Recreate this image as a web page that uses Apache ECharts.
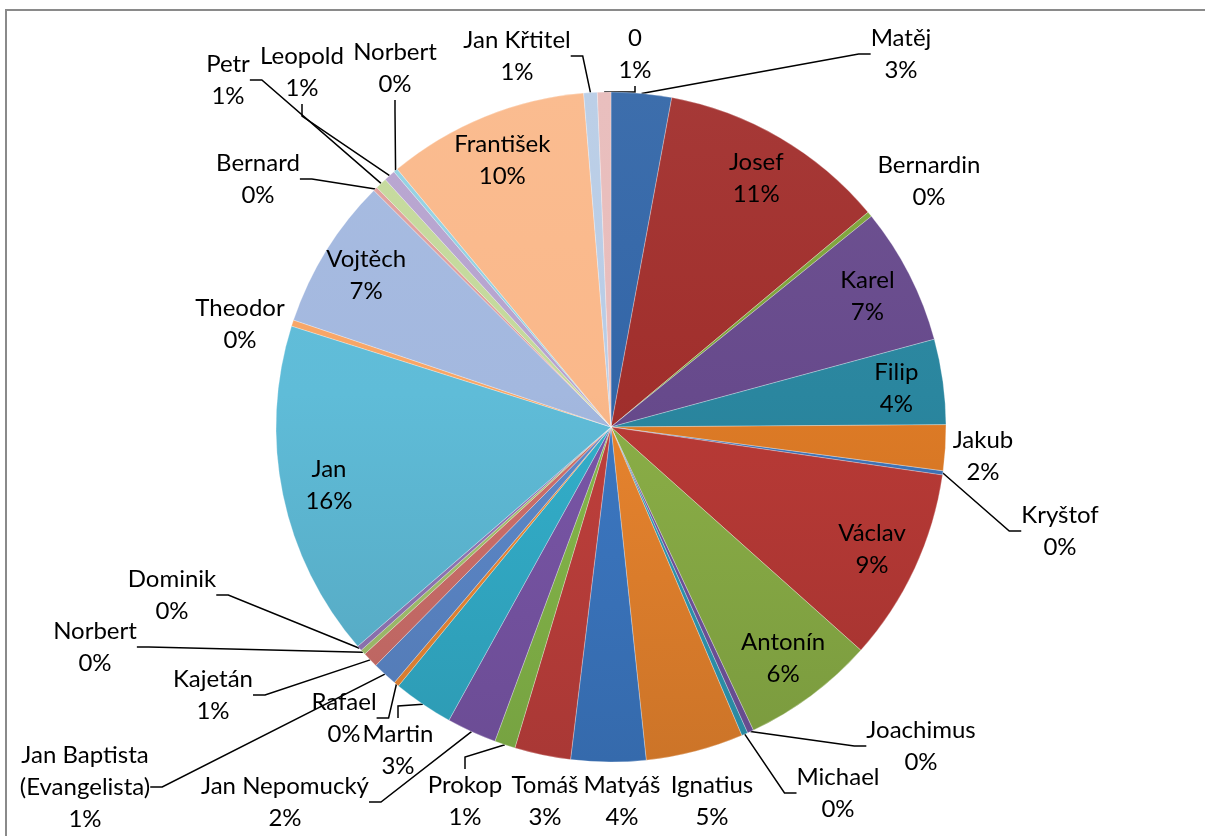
<!DOCTYPE html>
<html>
<head>
<meta charset="utf-8">
<title>Jména</title>
<script src="https://cdn.jsdelivr.net/npm/echarts@6/dist/echarts.min.js"></script>
<style>
  html, body { margin: 0; padding: 0; background: #fff; }
  #chart { width: 1205px; height: 836px; }
</style>
</head>
<body>
<div id="chart"></div>
<script>
// podíly jmen (v %), pořadí po směru hodinových ručiček od 12 hodin
const names = [
  'Matěj', 'Josef', 'Bernardin', 'Karel', 'Filip', 'Jakub', 'Kryštof', 'Václav',
  'Antonín', 'Joachimus', 'Michael', 'Ignatius', 'Matyáš', 'Tomáš', 'Prokop',
  'Jan Nepomucký', 'Martin', 'Rafael', 'Jan Baptista (Evangelista)', 'Kajetán',
  'Norbert', 'Dominik', 'Jan', 'Theodor', 'Vojtěch', 'Bernard', 'Petr', 'Leopold',
  'Norbert', 'František', 'Jan Křtitel', '0'
];
const shares = [
  2.9, 11.0, 0.25, 6.6, 4.1, 2.2, 0.2, 9.3,
  6.4, 0.3, 0.3, 4.7, 3.6, 2.7, 1.0,
  2.4, 2.9, 0.25, 1.2, 0.75,
  0.25, 0.25, 16.2, 0.3, 7.3, 0.2, 0.55, 0.55,
  0.2, 9.7, 0.65, 0.65
];
// popisky uvnitř výseče
const insideNames = ['Josef', 'Karel', 'Filip', 'Václav', 'Antonín', 'Jan', 'Vojtěch', 'František'];
// vnější popisky bez vodicí čáry (index)
const noLine = [2, 5, 11, 12, 13, 23];

const colors = [
  '#3366a8', '#a12f2c', '#7da43a', '#674a8c', '#2a869f', '#de7b26',
  '#3f74b8', '#b93a36', '#8baf47', '#7355a0', '#2f9ab6', '#e8842e',
  '#3c78c3', '#c0403c', '#86b84a', '#7a56a8', '#33afcb', '#ee8a35',
  '#5d89cb', '#d0706c', '#a6c670', '#9579ba', '#5fbcd8', '#f8a565',
  '#a3b8df', '#e09e9b', '#c4d99b', '#b6a3cf', '#93d1e2', '#fab88a',
  '#b8cce6', '#e8bcbb'
];

// středy vnějších popisků (px), podle indexu
const labelSpots = {
  0: [901, 54], 2: [929, 181], 5: [983, 456], 6: [1060, 531],
  9: [921, 746], 10: [838, 793], 11: [712, 801], 12: [622, 801],
  13: [545, 801], 14: [465, 801], 15: [285, 802], 16: [398, 750],
  17: [344, 718], 18: [85, 787], 19: [213, 695], 20: [95, 647],
  21: [172, 595], 23: [240, 324], 25: [258, 179], 26: [228, 80],
  27: [302, 72], 28: [395, 68], 30: [517, 56], 31: [635, 54]
};

const center = [611, 427];
const R = 335;
const font = { color: '#000', fontFamily: 'Lato', fontSize: 24, lineHeight: 32 };
const fmt = p => p.name.replace(' (', '\n(') + '\n' + Math.round(p.percent) + '%';

// smíchání barvy s bílou / černou
function mix(hex, t) {
  const c = [1, 3, 5].map(k => parseInt(hex.substr(k, 2), 16));
  const target = t > 0 ? 255 : 0;
  const a = Math.abs(t);
  return 'rgb(' + c.map(v => Math.round(v + (target - v) * a)).join(',') + ')';
}
// osvětlení shora jako v Excelu
function shade(hex) {
  return new echarts.graphic.LinearGradient(0, center[1] - R, 0, center[1] + R, [
    { offset: 0, color: mix(hex, 0.05) },
    { offset: 0.45, color: hex },
    { offset: 1, color: mix(hex, -0.12) }
  ], true);
}

const chart = echarts.init(document.getElementById('chart'));

const sliceData = names.map((n, i) => ({
  name: n,
  value: shares[i],
  itemStyle: { color: shade(colors[i]) },
  label: { show: !insideNames.includes(n) },
  labelLine: { show: !insideNames.includes(n) && !noLine.includes(i) }
}));
const ringData = names.map((n, i) => ({
  name: n,
  value: shares[i],
  label: { show: insideNames.includes(n) }
}));

chart.setOption({
  animation: false,
  graphic: [{
    type: 'rect', silent: true, z: -1,
    shape: { x: 6, y: 10, width: 1300, height: 900 },
    style: { fill: 'none', stroke: '#8a8a8a', lineWidth: 2 }
  }],
  series: [
    {
      type: 'pie',
      center: center,
      radius: R,
      startAngle: 90,
      avoidLabelOverlap: false,
      data: sliceData,
      itemStyle: { borderColor: 'rgba(255,255,255,0.45)', borderWidth: 0.6 },
      label: Object.assign({ position: 'outside', formatter: fmt, alignTo: 'none' }, font),
      labelLine: { length: 20, length2: 12, lineStyle: { color: '#000', width: 1.5 } },
      labelLayout: function (p) {
        const s = labelSpots[p.dataIndex];
        if (!s) return {};
        return { x: s[0], y: s[1], align: 'center', verticalAlign: 'middle' };
      },
      emphasis: { disabled: true }
    },
    {
      type: 'pie',
      center: center,
      radius: [235, R],
      startAngle: 90,
      silent: true,
      avoidLabelOverlap: false,
      data: ringData,
      itemStyle: { color: 'rgba(0,0,0,0)', borderWidth: 0 },
      label: Object.assign({ position: 'inside', formatter: fmt }, font),
      labelLine: { show: false },
      emphasis: { disabled: true }
    }
  ]
});
</script>
</body>
</html>
